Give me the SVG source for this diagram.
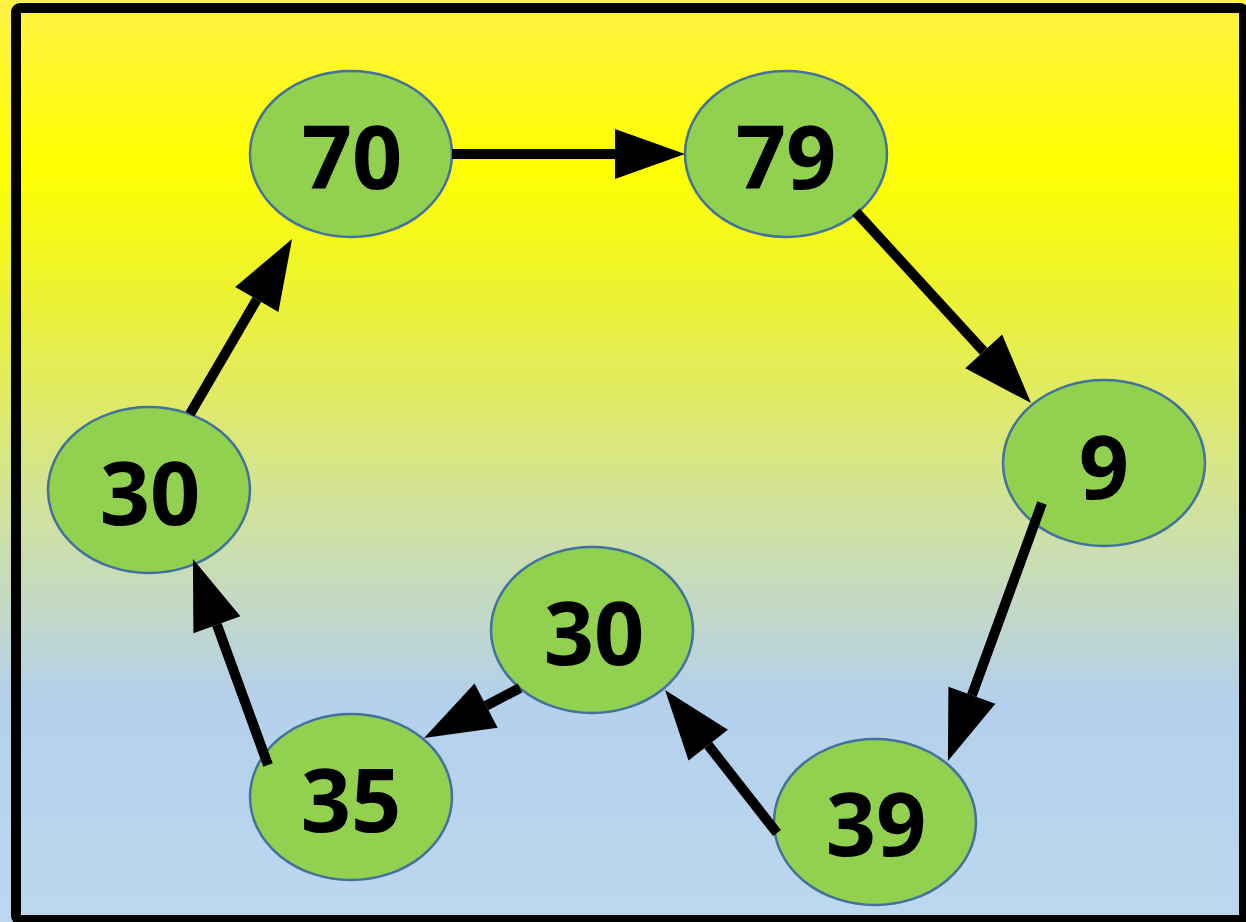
<svg xmlns="http://www.w3.org/2000/svg" width="1246" height="922" viewBox="0 0 1246 922">
  <defs>
    <linearGradient id="bg" x1="0" y1="0" x2="0" y2="1">
      <stop offset="0" stop-color="#FFF145"/>
      <stop offset="0.18" stop-color="#FFFF00"/>
      <stop offset="0.32" stop-color="#ECF232"/>
      <stop offset="0.55" stop-color="#D2E29C"/>
      <stop offset="0.76" stop-color="#B4D0EC"/>
      <stop offset="1" stop-color="#BDD7EE"/>
    </linearGradient>
    <marker id="ah" markerUnits="userSpaceOnUse" markerWidth="70" markerHeight="50" viewBox="0 0 70 50" refX="0" refY="25" orient="auto" overflow="visible">
      <path d="M0,0 L70,25 L0,50 Z" fill="#000"/>
    </marker>
    <style>
      .node ellipse { fill: #92D050; stroke: #41719C; stroke-width: 2.5; }
      .node text { font-family: "Open Sans", "Liberation Sans", sans-serif; font-weight: 700; font-size: 88px; fill: #000; text-anchor: middle; }
      .edge { stroke: #000; stroke-width: 10; fill: none; marker-end: url(#ah); }
    </style>
  </defs>
  <rect x="0" y="0" width="1246" height="922" fill="url(#bg)"/>
  <rect x="16" y="8" width="1228" height="912" rx="4" fill="none" stroke="#000" stroke-width="10"/>

  <g id="node-70" class="node">
    <ellipse cx="351" cy="154" rx="101" ry="83"/>
    <text x="352" y="189">70</text>
  </g>
  <g id="node-79" class="node">
    <ellipse cx="786" cy="154" rx="101" ry="83"/>
    <text x="786" y="189">79</text>
  </g>
  <g id="node-9" class="node">
    <ellipse cx="1104" cy="463" rx="101" ry="83"/>
    <text x="1104" y="499">9</text>
  </g>
  <g id="node-30b" class="node">
    <ellipse cx="592" cy="630" rx="101" ry="83"/>
    <text x="594" y="665">30</text>
  </g>
  <g id="node-39" class="node">
    <ellipse cx="875" cy="822" rx="101" ry="83"/>
    <text x="876" y="856">39</text>
  </g>
  <g id="node-35" class="node">
    <ellipse cx="351" cy="797" rx="101" ry="83"/>
    <text x="351" y="832">35</text>
  </g>
  <g id="node-30a" class="node">
    <ellipse cx="149" cy="490" rx="101" ry="83"/>
    <text x="150" y="525">30</text>
  </g>

  <g id="connectors">
    <line class="edge" x1="452" y1="154" x2="615" y2="154"/>
    <line class="edge" x1="856" y1="212" x2="983.7" y2="351.4"/>
    <line class="edge" x1="1042" y1="503" x2="971.9" y2="695.2"/>
    <line class="edge" x1="777" y1="833" x2="708.2" y2="745.1"/>
    <line class="edge" x1="520" y1="688" x2="486.1" y2="705.7"/>
    <line class="edge" x1="268" y1="765" x2="216.9" y2="624.8"/>
    <line class="edge" x1="190" y1="414" x2="256.8" y2="299.5"/>
  </g>
</svg>
